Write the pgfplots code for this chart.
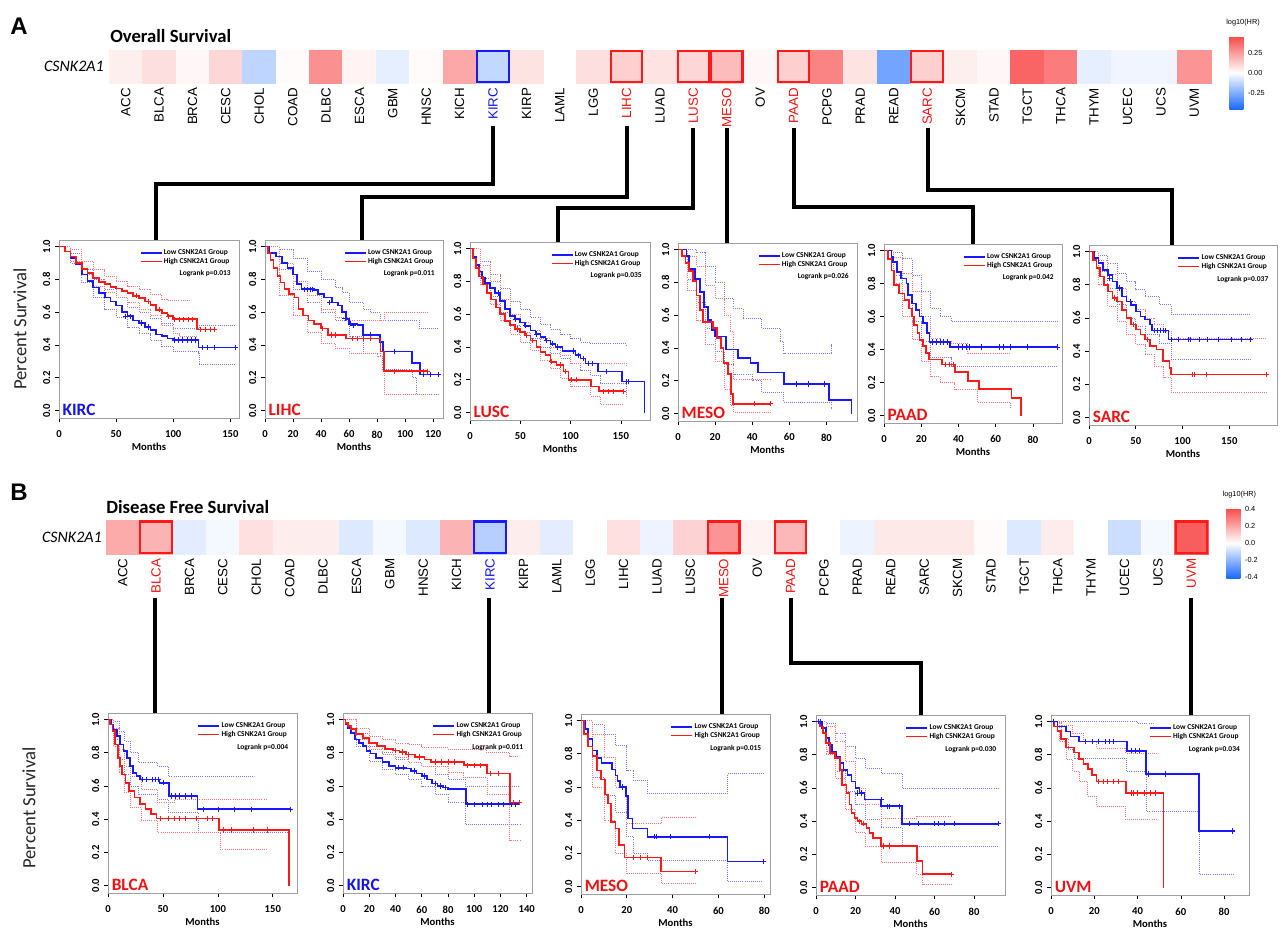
\documentclass[border=0pt]{standalone}
\usepackage{fontspec}
\setmainfont{Carlito}
\newfontfamily\arial{Liberation Sans}
\usepackage{pgfplots}
\usepackage{pgfplotstable}
\pgfplotsset{compat=1.18}

\definecolor{loc}{RGB}{25,25,255}
\definecolor{hic}{RGB}{255,25,25}
\definecolor{lob}{RGB}{120,120,250}
\definecolor{hib}{RGB}{245,120,120}
\definecolor{labred}{RGB}{235,20,20}
\definecolor{labblue}{RGB}{20,20,235}

\newcommand\kmfont{\fontsize{8}{9}\selectfont\bfseries}
\newcommand\legfont{\fontsize{5.6}{6.2}\selectfont\bfseries}
\newcommand\hmfont{\arial\fontsize{10}{11}\selectfont}
\newcommand\cbfont{\arial\fontsize{5.5}{6}\selectfont}

\pgfplotsset{
  /pgf/number format/assume math mode=true,
  colormap={hr}{rgb255=(25,105,255) rgb255=(255,255,255) rgb255=(248,72,72)},
  km/.style={
    scale only axis, anchor=north west, xmin=0, ymin=-0.045, ymax=1.04,
    axis line style={draw=gray!75, line width=0.6pt},
    tick pos=left, tick align=outside, major tick length=3pt,
    every tick/.style={black, line width=0.5pt},
    ytick={0,0.2,0.4,0.6,0.8,1},
    yticklabel={\pgfmathprintnumber[fixed,fixed zerofill,precision=1]{\tick}},
    yticklabel style={rotate=90, anchor=south, font=\kmfont},
    xticklabel style={font=\kmfont, yshift=-3pt},
    xlabel={Months}, xlabel style={font=\kmfont, yshift=3pt},
    legend style={at={(0.955,0.955)}, anchor=north east, draw=none, fill=none,
      font=\legfont, inner sep=0pt, row sep=-1pt, nodes={inner sep=1pt}},
    legend cell align=left,
    legend image code/.code={\draw[##1] (0cm,0cm) -- (0.55cm,0cm);},
  },
  lo/.style={const plot, color=loc, line width=1.25pt},
  hi/.style={const plot, color=hic, line width=1.25pt},
  lob/.style={const plot, color=lob, densely dotted, line width=0.55pt},
  hib/.style={const plot, color=hib, densely dotted, line width=0.55pt},
  locen/.style={only marks, mark=+, mark size=2pt, color=loc, mark options={line width=0.5pt}},
  hicen/.style={only marks, mark=+, mark size=2pt, color=hic, mark options={line width=0.5pt}},
  hm/.style={
    scale only axis, anchor=north west, width=826.5pt, height=25.05pt,
    xmin=-0.5, xmax=32.5, ymin=-0.5, ymax=0.5, clip=false,
    axis line style={draw=none}, major tick length=0pt, ytick=\empty,
    xtick={0,...,32}, xticklabel style={rotate=90, anchor=east, font=\hmfont},
    colormap name=hr,
  },
  hmcell/.style={scatter, only marks, mark=square*, mark size=12.52pt,
    scatter/use mapped color={draw=mapped color, fill=mapped color}, point meta=explicit},
}
\tikzset{
  pv/.style={anchor=north east, font=\legfont, inner sep=0pt},
  cl/.style={anchor=south west, font=\fontsize{13}{13}\selectfont\bfseries, inner sep=0.5pt},
}

% log10(HR) per cancer type (index, value); missing index = no data
\pgfplotstableread{
i v
0 0.04
1 0.08
2 0.02
3 0.10
4 -0.13
5 0.01
6 0.28
7 0.03
8 -0.05
9 0.01
10 0.22
11 -0.12
12 0.07
14 0.08
15 0.12
16 0.07
17 0.10
18 0.17
19 0.02
20 0.12
21 0.31
22 0.07
23 -0.28
24 0.12
25 0.04
26 0.02
27 0.39
28 0.33
29 -0.05
30 -0.03
31 -0.03
32 0.27
}\osdata

\pgfplotstableread{
i v
0 0.19
1 0.17
2 -0.05
3 -0.02
4 0.07
5 0.04
6 0.04
7 -0.06
8 -0.02
9 -0.06
10 0.17
11 -0.13
12 0.04
13 -0.05
14 0.00
15 0.07
16 -0.03
17 0.10
18 0.24
19 0.03
20 0.16
21 0.00
22 -0.03
23 0.05
24 0.05
25 0.05
26 0.01
27 -0.06
28 0.045
29 0.00
30 -0.09
31 -0.02
32 0.36
}\dfsdata

\begin{document}
\begin{tikzpicture}
\path[use as bounding box] (0,0) rectangle (960pt,-698.25pt);

% ---------------- heatmap A ----------------
\begin{axis}[hm, at={(81.75pt,-37.35pt)},
  point meta min=-0.46, point meta max=0.46,
  xticklabels={ACC,BLCA,BRCA,CESC,CHOL,COAD,DLBC,ESCA,GBM,HNSC,KICH,\textcolor{labblue}{KIRC},KIRP,LAML,LGG,\textcolor{labred}{LIHC},LUAD,\textcolor{labred}{LUSC},\textcolor{labred}{MESO},OV,\textcolor{labred}{PAAD},PCPG,PRAD,READ,\textcolor{labred}{SARC},SKCM,STAD,TGCT,THCA,THYM,UCEC,UCS,UVM},
  colorbar,
  colorbar style={at={(parent axis.north east)}, anchor=north west, xshift=5.25pt, yshift=10.35pt,
    scale only axis, width=10.5pt, height=55pt, axis line style={draw=none}, major tick length=0pt,
    ytick={-0.25,0,0.25},
    yticklabel style={font=\cbfont, /pgf/number format/.cd, fixed, fixed zerofill, precision=2},
    title={log10(HR)}, title style={font=\cbfont, at={(0,1)}, anchor=south west, xshift=-4pt, inner sep=1.5pt}},
]
\addplot[hmcell] table[x=i, y expr=0, meta=v] \osdata;
\addplot[only marks, mark=square, mark size=11.8pt, mark options={draw=hic, line width=1.6pt}]
  coordinates {(15,0) (17,0) (18,0) (20,0) (24,0)};
\addplot[only marks, mark=square, mark size=11.8pt, mark options={draw=loc, line width=1.6pt}]
  coordinates {(11,0)};
\end{axis}

% ---------------- heatmap B ----------------
\begin{axis}[hm, at={(79.5pt,-390.4pt)},
  point meta min=-0.41, point meta max=0.41,
  xticklabels={ACC,\textcolor{labred}{BLCA},BRCA,CESC,CHOL,COAD,DLBC,ESCA,GBM,HNSC,KICH,\textcolor{labblue}{KIRC},KIRP,LAML,LGG,LIHC,LUAD,LUSC,\textcolor{labred}{MESO},OV,\textcolor{labred}{PAAD},PCPG,PRAD,READ,SARC,SKCM,STAD,TGCT,THCA,THYM,UCEC,UCS,\textcolor{labred}{UVM}},
  colorbar,
  colorbar style={at={(parent axis.north east)}, anchor=north west, xshift=5.25pt, yshift=9.4pt,
    scale only axis, width=10.5pt, height=52.5pt, axis line style={draw=none}, major tick length=0pt,
    ytick={-0.4,-0.2,0,0.2,0.4},
    yticklabel style={font=\cbfont, /pgf/number format/.cd, fixed, fixed zerofill, precision=1},
    title={log10(HR)}, title style={font=\cbfont, at={(0,1)}, anchor=south west, xshift=-4pt, inner sep=1pt}},
]
\addplot[hmcell] table[x=i, y expr=0, meta=v] \dfsdata;
\addplot[only marks, mark=square, mark size=11.8pt, mark options={draw=hic, line width=1.6pt}]
  coordinates {(1,0) (18,0) (20,0) (32,0)};
\addplot[only marks, mark=square, mark size=11.8pt, mark options={draw=loc, line width=1.6pt}]
  coordinates {(11,0)};
\end{axis}

% ---------------- A: KIRC ----------------
\begin{axis}[km, at={(44.25pt,-180pt)}, width=135pt, height=133.5pt, xmax=157.5, xtick={0,50,100,150}]
\addlegendimage{loc, line width=1.4pt}\addlegendentry{Low CSNK2A1 Group}
\addlegendimage{hic, line width=1.4pt}\addlegendentry{High CSNK2A1 Group}
\addplot[lob] coordinates {(0,1)(10,0.96)(20,0.86)(30,0.8)(40,0.74)(50,0.69)(60,0.63)(70,0.6)(80,0.56)(90,0.53)(100,0.5)(122,0.5)(122.5,0.52)(154,0.52)};
\addplot[lob] coordinates {(0,1)(10,0.9)(20,0.78)(30,0.69)(40,0.62)(50,0.57)(60,0.51)(70,0.47)(80,0.43)(90,0.39)(100,0.36)(122,0.35)(122.5,0.28)(154,0.28)};
\addplot[hib] coordinates {(0,1)(10,0.98)(20,0.91)(30,0.86)(40,0.82)(50,0.79)(60,0.76)(70,0.74)(80,0.71)(90,0.68)(95,0.67)(114,0.67)};
\addplot[hib] coordinates {(0,1)(10,0.91)(20,0.83)(30,0.76)(40,0.72)(50,0.69)(60,0.66)(70,0.62)(80,0.58)(90,0.52)(100,0.47)(105,0.45)(120,0.45)};
\addplot[lo] coordinates {(0,1)(5,0.97)(10,0.93)(15,0.89)(20,0.83)(25,0.79)(30,0.75)(35,0.715)(40,0.69)(45,0.665)(50,0.64)(55,0.6)(60,0.575)(65,0.55)(70,0.535)(75,0.51)(80,0.49)(85,0.465)(90,0.455)(95,0.44)(100,0.43)(122,0.385)(154,0.385)};
\addplot[hi] coordinates {(0,1)(5,0.97)(10,0.94)(15,0.9)(20,0.865)(25,0.84)(30,0.81)(35,0.785)(40,0.77)(45,0.755)(50,0.745)(55,0.73)(60,0.715)(65,0.7)(70,0.685)(75,0.665)(80,0.645)(85,0.615)(90,0.595)(95,0.575)(100,0.557)(121,0.495)(138,0.495)};
\addplot[locen] coordinates {(58,0.575)(62,0.575)(72,0.535)(78,0.51)(101,0.43)(104,0.43)(108,0.43)(112,0.43)(116,0.43)(119,0.43)(125,0.385)(130,0.385)(136,0.385)(154,0.385)};
\addplot[hicen] coordinates {(68,0.7)(78,0.665)(88,0.615)(96,0.575)(101,0.557)(105,0.557)(109,0.557)(113,0.557)(117,0.557)(124,0.495)(128,0.495)(132,0.495)(136,0.495)};
\node[pv] at (rel axis cs:0.955,0.83) {Logrank p=0.013};
\node[cl, text=labblue] at (rel axis cs:0.015,0.01) {KIRC};
\end{axis}

% ---------------- A: LIHC ----------------
\begin{axis}[km, at={(198.75pt,-180pt)}, width=133.5pt, height=133.5pt, xmax=127, xtick={0,20,40,60,80,100,120}]
\addlegendimage{loc, line width=1.4pt}\addlegendentry{Low CSNK2A1 Group}
\addlegendimage{hic, line width=1.4pt}\addlegendentry{High CSNK2A1 Group}
\addplot[lob] coordinates {(0,1)(10,0.98)(20,0.93)(30,0.85)(40,0.8)(50,0.75)(55,0.72)(60,0.66)(70,0.62)(75,0.6)(82,0.55)(106,0.55)(110,0.5)(124,0.5)};
\addplot[lob] coordinates {(0,1)(10,0.86)(20,0.74)(30,0.66)(40,0.6)(50,0.55)(60,0.45)(70,0.35)(82,0.33)(84,0.25)(105,0.2)(108,0.1)(124,0.1)};
\addplot[hib] coordinates {(0,1)(10,0.9)(20,0.79)(30,0.7)(40,0.62)(50,0.57)(60,0.55)(82,0.55)(85,0.6)(116,0.6)};
\addplot[hib] coordinates {(0,1)(10,0.7)(20,0.58)(30,0.48)(40,0.41)(50,0.38)(60,0.35)(80,0.33)(85,0.1)(116,0.1)};
\addplot[lo] coordinates {(0,1)(3,0.96)(8,0.94)(12,0.9)(16,0.87)(20,0.83)(23,0.77)(26,0.74)(35,0.735)(38,0.71)(42,0.69)(48,0.66)(52,0.64)(55,0.6)(58,0.56)(60,0.53)(66,0.52)(70,0.46)(82,0.42)(84,0.36)(105,0.29)(110.5,0.22)(124,0.22)};
\addplot[hi] coordinates {(0,1)(2,0.96)(4,0.92)(6,0.87)(9,0.82)(11,0.78)(14,0.74)(17,0.71)(21,0.69)(24,0.62)(27,0.58)(31,0.55)(35,0.53)(40,0.5)(45,0.46)(58,0.44)(82.5,0.36)(85,0.24)(116,0.24)};
\addplot[locen] coordinates {(28,0.74)(30,0.74)(32,0.74)(34,0.74)(46,0.66)(57,0.56)(61,0.53)(63,0.52)(75,0.46)(92,0.36)(113,0.22)(118,0.22)(124,0.22)};
\addplot[hicen] coordinates {(41,0.5)(47,0.46)(50,0.46)(62,0.44)(66,0.44)(70,0.44)(75,0.44)(92,0.24)(113,0.24)(116,0.24)};
\node[pv] at (rel axis cs:0.955,0.83) {Logrank p=0.011};
\node[cl, text=labred] at (rel axis cs:0.015,0.01) {LIHC};
\end{axis}

% ---------------- A: LUSC ----------------
\begin{axis}[km, at={(352.5pt,-181.5pt)}, width=135pt, height=133.5pt, xmax=179, xtick={0,50,100,150}]
\addlegendimage{loc, line width=1.4pt}\addlegendentry{Low CSNK2A1 Group}
\addlegendimage{hic, line width=1.4pt}\addlegendentry{High CSNK2A1 Group}
\addplot[lob] coordinates {(0,1)(10,0.92)(20,0.84)(30,0.76)(40,0.68)(50,0.63)(60,0.58)(70,0.54)(80,0.51)(90,0.48)(100,0.45)(110,0.43)(120,0.42)(155,0.41)};
\addplot[lob] coordinates {(0,1)(10,0.82)(20,0.71)(30,0.61)(40,0.53)(50,0.49)(60,0.45)(70,0.4)(80,0.36)(90,0.33)(100,0.3)(110,0.26)(120,0.23)(130,0.18)(155,0.09)};
\addplot[hib] coordinates {(0,1)(10,0.9)(20,0.8)(30,0.69)(40,0.6)(50,0.55)(60,0.5)(70,0.45)(80,0.4)(90,0.35)(100,0.3)(155,0.28)};
\addplot[hib] coordinates {(0,1)(10,0.78)(20,0.66)(30,0.56)(40,0.48)(50,0.43)(60,0.38)(70,0.32)(80,0.27)(90,0.21)(100,0.16)(120,0.1)(130,0.05)(152,0.05)};
\addplot[lo] coordinates {(0,1)(3,0.95)(6,0.9)(9,0.86)(12,0.82)(15,0.79)(20,0.76)(25,0.73)(30,0.68)(35,0.63)(40,0.59)(45,0.57)(50,0.55)(55,0.53)(60,0.5)(65,0.48)(70,0.46)(75,0.44)(80,0.42)(85,0.4)(92,0.375)(105,0.35)(110,0.33)(115,0.3)(127,0.25)(151,0.19)(173.5,0)};
\addplot[hi] coordinates {(0,1)(3,0.94)(6,0.88)(9,0.83)(13,0.78)(17,0.73)(21,0.69)(26,0.64)(30,0.6)(35,0.56)(40,0.535)(45,0.51)(50,0.49)(55,0.47)(60,0.44)(66,0.4)(70,0.37)(75,0.35)(80,0.31)(86,0.29)(93,0.25)(98,0.2)(120,0.16)(128,0.13)(152,0.13)};
\addplot[locen] coordinates {(28,0.73)(45,0.57)(55,0.53)(66,0.48)(76,0.44)(82,0.42)(87,0.4)(103,0.375)(108,0.35)(113,0.33)(118,0.3)(122,0.3)(136,0.25)(155,0.19)(157,0.19)};
\addplot[hicen] coordinates {(47,0.51)(56,0.47)(62,0.44)(81,0.31)(90,0.29)(95,0.25)(101,0.2)(106,0.2)(133,0.13)(138,0.13)(143,0.13)(152,0.13)};
\node[pv] at (rel axis cs:0.955,0.83) {Logrank p=0.035};
\node[cl, text=labred] at (rel axis cs:0.015,0.01) {LUSC};
\end{axis}

% ---------------- A: MESO ----------------
\begin{axis}[km, at={(508.5pt,-182.25pt)}, width=134.25pt, height=133.5pt, xmax=96.5, xtick={0,20,40,60,80}]
\addlegendimage{loc, line width=1.4pt}\addlegendentry{Low CSNK2A1 Group}
\addlegendimage{hic, line width=1.4pt}\addlegendentry{High CSNK2A1 Group}
\addplot[lob] coordinates {(0,1)(10,0.98)(15,0.9)(20,0.8)(25,0.7)(30,0.64)(35,0.58)(45,0.52)(55,0.44)(57,0.37)(82,0.37)(82.5,0.42)(83,0.42)};
\addplot[lob] coordinates {(0,1)(5,0.82)(10,0.68)(15,0.52)(20,0.38)(25,0.3)(30,0.24)(40,0.2)(45,0.13)(57,0.07)(82,0.07)(82.5,0.03)(83,0.03)};
\addplot[hib] coordinates {(0,1)(5,0.96)(10,0.9)(15,0.78)(20,0.7)(25,0.6)(28,0.5)(30,0.21)(50,0.21)};
\addplot[hib] coordinates {(0,1)(5,0.75)(10,0.57)(15,0.42)(20,0.32)(25,0.15)(28,0.05)(30,0.01)(50,0.01)};
\addplot[lo] coordinates {(0,1)(4.5,0.96)(6,0.88)(9,0.82)(12,0.74)(14,0.65)(16,0.57)(18,0.51)(20,0.47)(26,0.39)(32.5,0.34)(39,0.31)(43,0.25)(57,0.18)(81.5,0.085)(93.5,0)};
\addplot[hi] coordinates {(0,1)(2,0.96)(4,0.92)(6,0.87)(8,0.81)(10,0.72)(12,0.63)(13.5,0.56)(19,0.52)(21,0.46)(23,0.4)(24.5,0.31)(27,0.24)(28.5,0.12)(29.5,0.06)(50,0.06)};
\addplot[locen] coordinates {(64,0.18)(70,0.18)(79,0.18)};
\addplot[hicen] coordinates {(41,0.06)(50,0.06)};
\node[pv] at (rel axis cs:0.955,0.83) {Logrank p=0.026};
\node[cl, text=labred] at (rel axis cs:0.015,0.01) {MESO};
\end{axis}

% ---------------- A: PAAD ----------------
\begin{axis}[km, at={(663pt,-183pt)}, width=133.5pt, height=134.25pt, xmax=95.6, xtick={0,20,40,60,80}]
\addlegendimage{loc, line width=1.4pt}\addlegendentry{Low CSNK2A1 Group}
\addlegendimage{hic, line width=1.4pt}\addlegendentry{High CSNK2A1 Group}
\addplot[lob] coordinates {(0,1)(5,0.99)(10,0.95)(15,0.85)(20,0.75)(25,0.65)(30,0.6)(36,0.57)(93,0.57)};
\addplot[lob] coordinates {(0,1)(5,0.85)(10,0.7)(15,0.57)(20,0.45)(25,0.35)(36,0.3)(93,0.3)};
\addplot[hib] coordinates {(0,1)(5,0.96)(10,0.86)(15,0.75)(20,0.6)(25,0.47)(30,0.45)(36,0.44)(45,0.38)(68,0.38)};
\addplot[hib] coordinates {(0,1)(5,0.8)(10,0.6)(15,0.46)(20,0.33)(25,0.24)(30,0.2)(38,0.16)(50,0.08)(68,0.05)};
\addplot[lo] coordinates {(0,1)(4,0.96)(5,0.93)(7,0.87)(9,0.83)(12,0.8)(13,0.73)(15,0.68)(17,0.64)(19,0.6)(21,0.56)(23,0.5)(24.5,0.445)(35.5,0.415)(93,0.415)};
\addplot[hi] coordinates {(0,1)(2,0.95)(4,0.88)(5.5,0.79)(8,0.74)(11,0.7)(13.5,0.65)(15,0.6)(16,0.55)(18,0.5)(19,0.46)(21,0.42)(22.5,0.38)(24,0.34)(31,0.31)(38,0.265)(45,0.21)(51,0.16)(68.5,0.105)(73.5,0)};
\addplot[locen] coordinates {(26,0.445)(28,0.445)(30,0.445)(32,0.445)(34,0.445)(40,0.415)(42,0.415)(44,0.415)(46,0.415)(52,0.415)(62,0.415)(64,0.415)(68,0.415)(77,0.415)(93,0.415)};
\addplot[hicen] coordinates {(33,0.31)(35,0.31)(37,0.31)};
\node[pv] at (rel axis cs:0.955,0.83) {Logrank p=0.042};
\node[cl, text=labred] at (rel axis cs:0.015,0.01) {PAAD};
\end{axis}

% ---------------- A: SARC ----------------
\begin{axis}[km, at={(816.75pt,-183.75pt)}, width=141pt, height=135pt, xmax=201, xtick={0,50,100,150}]
\addlegendimage{loc, line width=1.4pt}\addlegendentry{Low CSNK2A1 Group}
\addlegendimage{hic, line width=1.4pt}\addlegendentry{High CSNK2A1 Group}
\addplot[lob] coordinates {(0,1)(10,0.98)(20,0.93)(30,0.87)(40,0.82)(50,0.77)(60,0.73)(75,0.68)(88,0.62)(173,0.62)};
\addplot[lob] coordinates {(0,1)(10,0.88)(20,0.78)(30,0.68)(40,0.6)(50,0.55)(60,0.5)(75,0.45)(88,0.35)(173,0.35)};
\addplot[hib] coordinates {(0,1)(10,0.95)(20,0.86)(30,0.78)(40,0.7)(50,0.65)(60,0.6)(70,0.56)(80,0.52)(88,0.48)(190,0.48)};
\addplot[hib] coordinates {(0,1)(10,0.8)(20,0.67)(30,0.58)(40,0.5)(50,0.44)(60,0.38)(70,0.31)(80,0.24)(88,0.15)(190,0.15)};
\addplot[lo] coordinates {(0,1)(5,0.96)(10,0.93)(15,0.89)(20,0.86)(25,0.82)(30,0.78)(35,0.73)(40,0.7)(45,0.68)(50,0.64)(55,0.61)(60,0.59)(65,0.56)(67,0.525)(85,0.47)(173,0.47)};
\addplot[hi] coordinates {(0,1)(4,0.95)(8,0.9)(12,0.85)(16,0.8)(20,0.76)(25,0.72)(30,0.7)(35,0.65)(40,0.6)(45,0.56)(50,0.53)(55,0.5)(60,0.47)(65,0.43)(72,0.41)(79,0.34)(86,0.3)(88,0.26)(190,0.26)};
\addplot[locen] coordinates {(22,0.84)(32,0.78)(44,0.7)(70,0.525)(73,0.525)(76,0.525)(79,0.525)(82,0.525)(88,0.47)(95,0.47)(106,0.47)(108,0.47)(118,0.47)(126,0.47)(138,0.47)(152,0.47)(163,0.47)(173,0.47)};
\addplot[hicen] coordinates {(27,0.72)(47,0.56)(62,0.47)(110,0.26)(113,0.26)(125,0.26)(190,0.26)};
\node[pv] at (rel axis cs:0.955,0.83) {Logrank p=0.037};
\node[cl, text=labred] at (rel axis cs:0.015,0.01) {SARC};
\end{axis}

% ---------------- B: BLCA ----------------
\begin{axis}[km, at={(81pt,-534.75pt)}, width=141.75pt, height=135pt, xmax=172, xtick={0,50,100,150}]
\addlegendimage{loc, line width=1.4pt}\addlegendentry{Low CSNK2A1 Group}
\addlegendimage{hic, line width=1.4pt}\addlegendentry{High CSNK2A1 Group}
\addplot[lob] coordinates {(0,1)(5,0.99)(10,0.93)(15,0.87)(20,0.8)(28,0.74)(45,0.72)(55,0.66)(133,0.66)};
\addplot[lob] coordinates {(0,1)(5,0.88)(10,0.76)(15,0.67)(20,0.6)(28,0.55)(45,0.52)(55,0.44)(82,0.32)(166,0.32)};
\addplot[hib] coordinates {(0,1)(5,0.95)(10,0.82)(15,0.72)(20,0.66)(30,0.58)(45,0.5)(60,0.52)(145,0.52)};
\addplot[hib] coordinates {(0,1)(5,0.84)(10,0.68)(15,0.56)(20,0.47)(30,0.39)(45,0.32)(100,0.32)(102,0.22)(145,0.22)};
\addplot[lo] coordinates {(0,1)(3,0.97)(5,0.94)(8,0.9)(11,0.85)(14,0.81)(17,0.77)(20,0.72)(23,0.68)(26,0.66)(29,0.64)(47,0.62)(55.5,0.54)(81.5,0.46)(166,0.46)};
\addplot[hi] coordinates {(0,1)(2,0.97)(4,0.93)(6.5,0.85)(9,0.77)(11,0.72)(13,0.67)(16,0.62)(19,0.57)(24,0.53)(29,0.49)(34,0.46)(39,0.43)(44,0.405)(101,0.335)(164.5,0)};
\addplot[locen] coordinates {(31,0.64)(35,0.64)(40,0.64)(43,0.64)(46,0.64)(50,0.62)(58,0.54)(61,0.54)(65,0.54)(70,0.54)(76,0.54)(87,0.46)(100,0.46)(115,0.46)(130,0.46)(166,0.46)};
\addplot[hicen] coordinates {(48,0.405)(55,0.405)(60,0.405)(65,0.405)(70,0.405)(80,0.405)(90,0.405)(95,0.405)(105,0.335)(112,0.335)(132,0.335)(145,0.335)};
\node[pv] at (rel axis cs:0.955,0.83) {Logrank p=0.004};
\node[cl, text=labred] at (rel axis cs:0.015,0.01) {BLCA};
\end{axis}

% ---------------- B: KIRC ----------------
\begin{axis}[km, at={(257.25pt,-534.75pt)}, width=141.75pt, height=135pt, xmax=144, xtick={0,20,40,60,80,100,120,140}]
\addlegendimage{loc, line width=1.4pt}\addlegendentry{Low CSNK2A1 Group}
\addlegendimage{hic, line width=1.4pt}\addlegendentry{High CSNK2A1 Group}
\addplot[lob] coordinates {(0,1)(10,0.92)(20,0.84)(30,0.8)(40,0.76)(50,0.74)(60,0.72)(70,0.67)(80,0.64)(93,0.6)(135,0.6)};
\addplot[lob] coordinates {(0,1)(10,0.84)(20,0.75)(30,0.7)(40,0.67)(50,0.64)(60,0.6)(70,0.55)(80,0.5)(93,0.37)(135,0.37)};
\addplot[hib] coordinates {(0,1)(10,0.95)(20,0.9)(30,0.88)(40,0.86)(50,0.85)(60,0.83)(80,0.82)(109,0.8)(127,0.78)(134,0.78)};
\addplot[hib] coordinates {(0,1)(10,0.88)(20,0.82)(30,0.79)(40,0.77)(50,0.74)(60,0.72)(80,0.68)(92,0.65)(110,0.55)(127,0.27)(136,0.27)};
\addplot[lo] coordinates {(0,1)(2,0.97)(4,0.95)(6,0.92)(9,0.88)(12,0.86)(15,0.84)(18,0.81)(21,0.795)(25,0.77)(30,0.745)(35,0.72)(40,0.71)(48,0.705)(52,0.69)(56,0.675)(60,0.66)(64,0.64)(68,0.615)(72,0.6)(76,0.59)(80,0.58)(93.5,0.49)(135,0.49)};
\addplot[hi] coordinates {(0,1)(2,0.98)(4,0.96)(6,0.945)(10,0.915)(15,0.89)(20,0.86)(26,0.84)(32,0.825)(38,0.815)(43,0.805)(48,0.79)(55,0.775)(62,0.76)(67,0.745)(92,0.725)(109.5,0.675)(127,0.5)(134,0.5)};
\addplot[locen] coordinates {(42,0.71)(46,0.71)(54,0.69)(62,0.66)(70,0.615)(74,0.6)(78,0.59)(95,0.49)(100,0.49)(106,0.49)(110,0.49)(113,0.49)(118,0.49)(122,0.49)(128,0.49)(131,0.49)};
\addplot[hicen] coordinates {(40,0.815)(45,0.805)(50,0.79)(58,0.775)(70,0.745)(75,0.745)(80,0.745)(85,0.745)(95,0.725)(100,0.725)(105,0.725)(112,0.675)(118,0.675)(130,0.5)(134,0.5)};
\node[pv] at (rel axis cs:0.955,0.83) {Logrank p=0.011};
\node[cl, text=labblue] at (rel axis cs:0.015,0.01) {KIRC};
\end{axis}

% ---------------- B: MESO ----------------
\begin{axis}[km, at={(435.75pt,-535.5pt)}, width=141.75pt, height=135pt, xmax=82.5, xtick={0,20,40,60,80}]
\addlegendimage{loc, line width=1.4pt}\addlegendentry{Low CSNK2A1 Group}
\addlegendimage{hic, line width=1.4pt}\addlegendentry{High CSNK2A1 Group}
\addplot[lob] coordinates {(0,1)(5,0.98)(10,0.92)(15,0.85)(20,0.7)(23,0.64)(29,0.56)(64,0.68)(79.5,0.68)};
\addplot[lob] coordinates {(0,1)(5,0.66)(10,0.55)(15,0.45)(20,0.3)(23,0.2)(29,0.16)(64,0.03)(79.5,0.03)};
\addplot[hib] coordinates {(0,1)(5,0.92)(10,0.78)(15,0.6)(20,0.38)(35,0.42)(50,0.42)};
\addplot[hib] coordinates {(0,1)(5,0.6)(10,0.4)(15,0.2)(20,0.08)(35,0.02)(50,0.02)};
\addplot[lo] coordinates {(0,1)(2,0.95)(3,0.89)(5,0.82)(7,0.775)(9,0.745)(13.5,0.705)(15,0.67)(16,0.635)(17,0.6)(19.5,0.545)(20.5,0.41)(22.5,0.35)(29,0.3)(64,0.15)(79.5,0.15)};
\addplot[hi] coordinates {(0,1)(1.2,0.92)(3,0.845)(5,0.785)(7,0.7)(8.8,0.645)(10.5,0.555)(11.7,0.5)(13,0.39)(15,0.35)(16.5,0.25)(19,0.175)(35,0.09)(50,0.09)};
\addplot[locen] coordinates {(18,0.6)(32,0.3)(33,0.3)(39,0.3)(56,0.3)(79.5,0.15)};
\addplot[hicen] coordinates {(23,0.175)(26,0.175)(29,0.175)(50,0.09)};
\node[pv] at (rel axis cs:0.955,0.83) {Logrank p=0.015};
\node[cl, text=labred] at (rel axis cs:0.015,0.01) {MESO};
\end{axis}

% ---------------- B: PAAD ----------------
\begin{axis}[km, at={(612pt,-536.25pt)}, width=141.75pt, height=135pt, xmax=95.7, xtick={0,20,40,60,80}]
\addlegendimage{loc, line width=1.4pt}\addlegendentry{Low CSNK2A1 Group}
\addlegendimage{hic, line width=1.4pt}\addlegendentry{High CSNK2A1 Group}
\addplot[lob] coordinates {(0,1)(5,0.99)(10,0.93)(15,0.85)(20,0.78)(25,0.72)(33,0.69)(43.5,0.6)(92.5,0.6)};
\addplot[lob] coordinates {(0,1)(5,0.82)(10,0.7)(15,0.58)(20,0.5)(25,0.41)(33,0.36)(43.5,0.25)(92.5,0.25)};
\addplot[hib] coordinates {(0,1)(5,0.97)(10,0.88)(15,0.76)(20,0.6)(25,0.5)(33,0.42)(51,0.43)(68.5,0.43)};
\addplot[hib] coordinates {(0,1)(5,0.8)(10,0.66)(15,0.47)(20,0.33)(25,0.25)(33,0.15)(51,0.08)(54,0.02)(68.5,0.02)};
\addplot[lo] coordinates {(0,1)(3,0.96)(5,0.9)(6.5,0.86)(8,0.82)(10,0.79)(12,0.75)(14,0.71)(16,0.68)(18,0.64)(20,0.6)(22,0.57)(24.5,0.53)(33,0.49)(43.5,0.385)(92.5,0.385)};
\addplot[hi] coordinates {(0,1)(2,0.97)(3.5,0.93)(5,0.87)(7,0.81)(9.5,0.78)(12,0.71)(13,0.62)(15.5,0.57)(17,0.5)(18,0.45)(19.5,0.42)(21,0.4)(23,0.385)(25.5,0.36)(27,0.33)(29,0.3)(33,0.25)(51,0.16)(54,0.08)(68.5,0.08)};
\addplot[locen] coordinates {(1,1)(2,1)(21,0.57)(23,0.57)(33,0.53)(36,0.49)(37,0.49)(42,0.49)(47,0.385)(52,0.385)(60,0.385)(62,0.385)(65,0.385)(70,0.385)(92.5,0.385)};
\addplot[hicen] coordinates {(22,0.4)(24,0.385)(34,0.25)(37,0.25)(68.5,0.08)};
\node[pv] at (rel axis cs:0.955,0.83) {Logrank p=0.030};
\node[cl, text=labred] at (rel axis cs:0.015,0.01) {PAAD};
\end{axis}

% ---------------- B: UVM ----------------
\begin{axis}[km, at={(788.25pt,-536.25pt)}, width=148.5pt, height=135pt, xmax=91.5, xtick={0,20,40,60,80}]
\addlegendimage{loc, line width=1.4pt}\addlegendentry{Low CSNK2A1 Group}
\addlegendimage{hic, line width=1.4pt}\addlegendentry{High CSNK2A1 Group}
\addplot[lob] coordinates {(0,1)(35,1)(40,0.99)(47,0.99)};
\addplot[lob] coordinates {(0,1)(5,0.9)(8,0.83)(11,0.78)(35,0.7)(44,0.46)(68.5,0.08)(85,0.08)};
\addplot[hib] coordinates {(0,1)(5,0.98)(10,0.93)(15,0.88)(21,0.84)(34.5,0.81)(49,0.81)};
\addplot[hib] coordinates {(0,1)(4,0.88)(7,0.77)(10,0.7)(13,0.64)(17,0.55)(21,0.49)(34.5,0.41)(49,0.41)};
\addplot[lo] coordinates {(0,1)(3,0.97)(7,0.94)(9,0.91)(13,0.88)(35,0.825)(44,0.685)(68.5,0.34)(85,0.34)};
\addplot[hi] coordinates {(0,1)(1.5,0.97)(3,0.945)(4.5,0.895)(7,0.845)(10.5,0.815)(13,0.775)(15,0.745)(17,0.715)(19,0.68)(21,0.64)(34.5,0.57)(52,0)};
\addplot[locen] coordinates {(1,1)(16,0.88)(19,0.88)(22,0.88)(25,0.88)(27,0.88)(29,0.88)(37,0.825)(39,0.825)(41,0.825)(45,0.685)(53,0.685)(84,0.34)};
\addplot[hicen] coordinates {(22,0.64)(24,0.64)(26,0.64)(29,0.64)(31,0.64)(37,0.57)(38,0.57)(40,0.57)(43,0.57)(46,0.57)(48,0.57)};
\node[pv] at (rel axis cs:0.955,0.83) {Logrank p=0.034};
\node[cl, text=labred] at (rel axis cs:0.015,0.01) {UVM};
\end{axis}

% ---------------- titles and connectors (pixel grid) ----------------
\begin{scope}[x=0.75pt, y=-0.75pt]
\node[font=\arial\fontsize{18}{18}\selectfont\bfseries] at (19,26) {A};
\node[font=\arial\fontsize{18}{18}\selectfont\bfseries] at (19,492) {B};
\node[anchor=base west, inner sep=0pt, font=\fontsize{14}{14}\selectfont\bfseries] at (110,43) {Overall Survival};
\node[anchor=base west, inner sep=0pt, font=\fontsize{14}{14}\selectfont\bfseries] at (106,513) {Disease Free Survival};
\node[anchor=east, inner sep=0pt, font=\fontsize{12}{12}\selectfont\itshape] at (104,66.5) {CSNK2A1};
\node[anchor=east, inner sep=0pt, font=\fontsize{12}{12}\selectfont\itshape] at (102,537) {CSNK2A1};
\node[rotate=90, font=\fontsize{14}{14}\selectfont, text=black!85] at (20,329) {Percent Survival};
\node[rotate=90, font=\fontsize{14}{14}\selectfont, text=black!85] at (29,808) {Percent Survival};

\begin{scope}[line width=2.4pt, line cap=butt, line join=miter]
\draw (493,126) |- (156,184) -- (156,240);
\draw (627,126) |- (362,197) -- (362,240);
\draw (693,128) |- (558,208) -- (558,242);
\draw (727,128) -- (727,243);
\draw (794,128) |- (973,207) -- (973,244);
\draw (928,128) |- (1172,190) -- (1172,245);
\draw (155,598) -- (155,713);
\draw (489,598) -- (489,713);
\draw (722,598) -- (722,714);
\draw (791,598) |- (921,663) -- (921,715);
\draw (1191,598) -- (1191,715);
\end{scope}
\end{scope}
\end{tikzpicture}
\end{document}
